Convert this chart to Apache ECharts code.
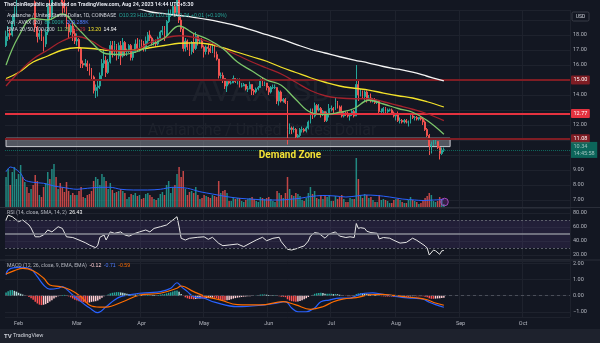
<!DOCTYPE html>
<html>
<head>
<meta charset="utf-8">
<script src="https://cdn.jsdelivr.net/npm/echarts@6/dist/echarts.min.js"></script>
<style>
  html, body { margin: 0; padding: 0; background: #131722; }
  #chart { width: 600px; height: 343px; }
</style>
</head>
<body>
<div id="chart"></div>
<script>
// AVAX/USD daily candles, 26 Jan 2023 - 24 Aug 2023 (COINBASE, 1D)
const opens = [
  17.3, 17.9, 18.1, 18.0, 18.9, 19.4,
  20.2, 20.9, 21.6, 21.3, 21.9, 21.2, 20.6, 21.2, 20.2, 18.5, 17.9, 18.1, 17.8, 17.4, 18.2, 19.9, 19.2, 20.9, 21.6, 21.0, 21.5, 20.6, 20.2, 19.8, 18.7, 18.2, 18.6, 18.1,
  17.6, 17.7, 17.1, 16.1, 16.0, 16.1, 15.9, 15.6, 15.2, 14.3, 14.5, 14.6, 15.3, 16.1, 16.3, 15.5, 16.2, 17.3, 16.7, 17.3, 16.6, 17.3, 16.6, 17.5, 16.9, 16.9, 17.3, 16.5, 16.9, 17.4, 17.1,
  17.5, 17.4, 17.1, 17.6, 18.0, 17.8, 17.5, 17.5, 17.4, 17.8, 18.2, 18.3, 18.0, 18.9, 19.3, 19.4, 19.9, 19.5, 20.5, 19.0, 18.4, 17.1, 17.6, 17.2, 16.9, 17.5, 17.1, 17.9, 17.6, 17.6,
  17.2, 16.9, 17.2, 17.1, 16.9, 17.3, 16.7, 16.4, 15.3, 15.3, 15.1, 14.6, 14.9, 14.8, 14.8, 15.1, 14.9, 15.0, 14.6, 14.6, 14.7, 14.4, 14.4, 14.7, 14.3, 14.2, 14.4, 14.5, 15.0, 14.7, 14.8,
  14.5, 14.2, 14.5, 14.5, 14.5, 13.6, 14.2, 13.6, 13.7, 13.5, 11.7, 11.8, 11.7, 11.7, 11.2, 11.3, 11.7, 11.7, 11.6, 11.8, 12.2, 12.9, 12.6, 13.3, 13.0, 13.1, 12.7, 12.9, 12.3, 12.7,
  13.1, 13.1, 13.0, 13.5, 13.2, 12.9, 12.6, 12.8, 12.7, 12.6, 12.7, 12.9, 12.6, 14.7, 14.0, 14.2, 13.9, 14.2, 13.7, 13.8, 13.6, 13.7, 13.5, 13.6, 12.9, 12.9, 13.1, 12.9, 13.0, 13.0, 12.8,
  12.6, 12.7, 12.3, 12.3, 12.2, 12.3, 12.2, 12.2, 12.6, 12.5, 12.5, 12.4, 12.5, 12.4, 12.2, 11.7, 11.3, 10.6, 10.7, 10.8, 10.9, 10.5, 10.1, 10.33
];
const closes = [
  17.9, 18.1, 18.0, 18.9, 19.4, 20.2,
  20.9, 21.6, 21.3, 21.9, 21.2, 20.6, 21.2, 20.2, 18.5, 17.9, 18.1, 17.8, 17.4, 18.2, 19.9, 19.2, 20.9, 21.6, 21.0, 21.5, 20.6, 20.2, 19.8, 18.7, 18.2, 18.6, 18.1, 17.6,
  17.7, 17.1, 16.1, 16.0, 16.1, 15.9, 15.6, 15.2, 14.3, 14.5, 14.6, 15.3, 16.1, 16.3, 15.5, 16.2, 17.3, 16.7, 17.3, 16.6, 17.3, 16.6, 17.5, 16.9, 16.9, 17.3, 16.5, 16.9, 17.4, 17.1, 17.5,
  17.4, 17.1, 17.6, 18.0, 17.8, 17.5, 17.5, 17.4, 17.8, 18.2, 18.3, 18.0, 18.9, 19.3, 19.4, 19.9, 19.5, 20.5, 19.0, 18.4, 17.1, 17.6, 17.2, 16.9, 17.5, 17.1, 17.9, 17.6, 17.6, 17.2,
  16.9, 17.2, 17.1, 16.9, 17.3, 16.7, 16.4, 15.3, 15.3, 15.1, 14.6, 14.9, 14.8, 14.8, 15.1, 14.9, 15.0, 14.6, 14.6, 14.7, 14.4, 14.4, 14.7, 14.3, 14.2, 14.4, 14.5, 15.0, 14.7, 14.8, 14.5,
  14.2, 14.5, 14.5, 14.5, 13.6, 14.2, 13.6, 13.7, 13.5, 11.7, 11.8, 11.7, 11.7, 11.2, 11.3, 11.7, 11.7, 11.6, 11.8, 12.2, 12.9, 12.6, 13.3, 13.0, 13.1, 12.7, 12.9, 12.3, 12.7, 13.1,
  13.1, 13.0, 13.5, 13.2, 12.9, 12.6, 12.8, 12.7, 12.6, 12.7, 12.9, 12.6, 14.7, 14.0, 14.2, 13.9, 14.2, 13.7, 13.8, 13.6, 13.7, 13.5, 13.6, 12.9, 12.9, 13.1, 12.9, 13.0, 13.0, 12.8, 12.6,
  12.7, 12.3, 12.3, 12.2, 12.3, 12.2, 12.2, 12.6, 12.5, 12.5, 12.4, 12.5, 12.4, 12.2, 11.7, 11.3, 10.6, 10.7, 10.8, 10.9, 10.5, 10.1, 10.33, 10.34
];
const highs = [
  18.3, 18.6, 18.4, 19.3, 19.9, 20.6,
  21.3, 22.4, 22.0, 22.5, 22.0, 21.4, 21.5, 21.3, 20.3, 18.6, 18.3, 18.4, 17.9, 18.4, 20.1, 20.8, 21.2, 22.0, 22.2, 21.8, 21.7, 20.7, 20.6, 19.9, 18.8, 18.7, 18.9, 18.4,
  18.1, 17.8, 17.2, 16.3, 16.4, 16.3, 16.1, 15.8, 15.3, 14.7, 15.0, 15.5, 16.4, 17.0, 16.6, 16.4, 17.6, 17.6, 17.6, 17.4, 17.5, 17.6, 17.8, 17.6, 17.1, 17.4, 17.4, 17.0, 17.7, 17.8, 17.7,
  17.7, 17.6, 17.9, 18.2, 18.3, 17.9, 17.7, 17.7, 17.9, 18.3, 18.6, 18.6, 19.0, 19.7, 19.7, 20.2, 20.0, 20.8, 20.6, 19.2, 18.5, 17.8, 17.7, 17.5, 17.6, 18.1, 18.2, 18.0, 17.8, 17.8,
  17.3, 17.3, 17.4, 17.3, 17.5, 17.4, 16.9, 16.4, 15.5, 15.5, 15.1, 15.0, 15.0, 15.0, 15.3, 15.1, 15.1, 15.1, 14.8, 14.8, 14.7, 14.6, 14.9, 14.7, 14.4, 14.5, 14.6, 15.1, 15.2, 14.9, 14.8,
  14.6, 14.6, 14.7, 14.7, 14.5, 14.3, 14.3, 13.8, 13.8, 13.6, 12.1, 11.9, 11.9, 11.8, 11.4, 11.8, 11.9, 11.8, 11.9, 12.3, 13.1, 13.1, 13.5, 13.4, 13.4, 13.2, 13.0, 12.9, 12.9, 13.4,
  13.3, 13.2, 13.8, 13.6, 13.3, 13.3, 12.9, 12.9, 12.9, 12.8, 13.0, 13.0, 16.0, 15.0, 14.4, 14.3, 14.3, 14.3, 14.0, 14.1, 13.8, 13.8, 13.7, 13.6, 13.1, 13.2, 13.2, 13.1, 13.1, 13.1, 12.9,
  12.8, 12.9, 12.5, 12.4, 12.4, 12.4, 12.3, 12.8, 12.8, 12.6, 12.6, 12.5, 12.6, 12.5, 12.3, 11.8, 11.4, 10.9, 11.0, 11.0, 10.9, 10.6, 10.5, 10.5
];
const lows = [
  17.2, 17.6, 17.7, 17.9, 18.6, 19.2,
  19.8, 20.8, 20.9, 21.1, 20.8, 20.2, 20.3, 19.8, 18.2, 17.5, 17.7, 17.6, 16.9, 17.2, 18.0, 19.0, 19.0, 20.7, 20.8, 20.5, 20.3, 19.4, 19.5, 18.4, 17.8, 18.0, 17.6, 17.4,
  17.3, 16.9, 15.8, 15.8, 15.9, 15.6, 15.3, 15.0, 14.1, 13.8, 13.9, 14.4, 15.0, 15.8, 15.2, 15.4, 16.1, 16.5, 16.6, 16.3, 16.4, 16.0, 16.5, 16.6, 16.6, 16.8, 16.3, 16.3, 16.8, 16.9, 16.9,
  17.2, 16.9, 16.9, 17.4, 17.6, 17.3, 17.3, 17.2, 17.3, 17.6, 18.0, 17.6, 17.9, 18.8, 19.2, 19.3, 19.2, 19.3, 18.8, 18.2, 16.9, 16.9, 17.0, 16.6, 16.7, 16.8, 17.0, 17.3, 17.4, 17.1,
  16.5, 16.7, 16.7, 16.8, 16.8, 16.5, 16.3, 15.1, 15.1, 14.8, 14.4, 14.2, 14.7, 14.7, 14.8, 14.8, 14.7, 14.5, 14.5, 14.6, 14.3, 14.2, 14.4, 14.0, 14.0, 14.1, 14.3, 14.5, 14.6, 14.6, 14.3,
  14.0, 14.1, 14.4, 14.4, 13.4, 13.3, 13.5, 13.5, 13.4, 10.7, 11.4, 11.4, 11.5, 11.0, 11.0, 11.2, 11.5, 11.5, 11.5, 11.7, 12.1, 12.4, 12.5, 12.8, 12.9, 12.5, 12.6, 12.2, 12.2, 12.5,
  12.9, 12.8, 13.0, 13.1, 12.7, 12.5, 12.5, 12.6, 12.5, 12.3, 12.6, 12.5, 12.6, 13.6, 13.9, 13.8, 13.6, 13.5, 13.6, 13.5, 13.5, 13.4, 13.4, 12.8, 12.8, 12.8, 12.8, 12.8, 12.9, 12.7, 12.5,
  12.3, 12.2, 12.1, 12.1, 12.1, 12.1, 11.9, 12.1, 12.4, 12.3, 12.3, 12.3, 12.3, 12.0, 11.6, 11.2, 10.0, 10.1, 10.6, 10.7, 10.4, 9.7, 10.0, 10.2
];
// daily volume, thousand AVAX
const volumes = [
  840, 1064, 616, 980, 1120, 784, 924, 1176, 840, 700,
  560, 392, 504, 616, 896, 728, 336, 280, 560, 672,
  980, 784, 1064, 1204, 840, 504, 672, 560, 420, 700, 448, 336,
  392, 336, 336, 448, 560, 280, 252, 336, 364, 448, 728, 840,
  784, 616, 924, 840, 728, 504, 672, 476, 392, 420, 448, 504,
  448, 392, 224, 280, 364, 336, 392, 308, 336, 224, 252, 364, 392, 336, 280,
  224, 196, 252, 364, 420, 336, 616, 728, 392, 560, 616, 924, 1120, 840, 1008,
  504, 336, 420, 448, 392, 560, 336, 224, 252, 336, 308, 280, 252, 336, 308, 280,
  728, 392, 448, 476, 392, 168, 168, 280, 224, 252, 252, 168, 140, 196, 224, 252, 280, 224, 168, 140, 280, 252, 224, 252,
  280, 224, 168, 140, 448, 392, 336, 252, 392, 840, 504, 336, 308, 392, 364, 308, 196, 168, 252, 392, 560, 364, 448, 252, 224, 336, 224, 336, 280, 336,
  168, 168, 308, 224, 280, 336, 224, 140, 140, 252, 224, 224, 1372, 784, 336, 252, 364, 336, 252, 280, 196, 140, 140, 336, 196, 224, 196, 168, 112, 112, 196,
  224, 224, 196, 140, 112, 112, 196, 280, 196, 168, 140, 84, 112, 196, 252, 308, 392, 336, 168, 140, 168, 280, 196, 84
];
// 20-day volume average, sampled
const volMA = [
  ['01-26', 988], ['01-28', 1120], ['01-30', 1084], ['02-02', 944], ['02-04', 756], ['02-08', 692],
  ['02-13', 664], ['02-18', 588], ['02-22', 552], ['03-01', 496], ['03-06', 524], ['03-12', 552],
  ['03-17', 552], ['03-22', 496], ['03-28', 476], ['04-04', 476], ['04-10', 496], ['04-16', 552],
  ['04-23', 524], ['04-29', 428], ['05-05', 364], ['05-12', 288], ['05-18', 244], ['05-25', 216],
  ['05-31', 196], ['06-06', 196], ['06-11', 216], ['06-16', 244], ['06-21', 294], ['06-27', 322],
  ['07-03', 308], ['07-08', 280], ['07-13', 308], ['07-17', 336], ['07-23', 322], ['07-29', 280],
  ['08-04', 224], ['08-10', 196], ['08-14', 182], ['08-19', 196], ['08-24', 209.288]
];

// moving averages, weekly samples
const emaWeeks = ['01-26','02-01','02-08','02-15','02-22','03-01','03-08','03-15','03-22','03-29','04-05',
  '04-12','04-19','04-26','05-03','05-10','05-17','05-24','05-31','06-07','06-14','06-21','06-28',
  '07-05','07-12','07-19','07-26','08-02','08-09','08-16','08-24'];
const ema20 = [16.0, 17.9, 19.1, 19.0, 19.4, 18.5, 17.5, 16.75, 16.7, 16.85, 17.3, 17.8, 18.6, 18.1, 17.7,
  17.1, 16.2, 15.6, 15.0, 14.65, 13.7, 12.85, 12.7, 12.85, 13.1, 13.65, 13.4, 13.1, 12.85, 12.3, 11.39];
const ema50 = [14.6, 15.5, 16.4, 17.0, 17.6, 17.9, 17.6, 17.05, 16.95, 17.0, 17.5, 17.8, 17.95, 17.85, 17.55,
  17.1, 16.65, 16.2, 15.8, 15.4, 14.85, 14.3, 13.95, 13.8, 13.75, 13.75, 13.55, 13.3, 13.05, 12.75, 12.29];
const ema100 = [15.1, 15.5, 16.2, 16.6, 17.0, 17.15, 17.1, 16.98, 16.95, 17.0, 17.15, 17.3, 17.45, 17.48, 17.4,
  17.15, 16.85, 16.55, 16.25, 15.85, 15.5, 15.15, 14.85, 14.6, 14.45, 14.33, 14.13, 13.95, 13.8, 13.55, 13.2];
const ema200 = [null, null, null, null, null, null, null, 20.4, 20.1, 19.82, 19.55, 19.42, 19.3, 19.18, 19.02,
  18.82, 18.6, 18.32, 18.02, 17.72, 17.38, 17.05, 16.8, 16.55, 16.33, 16.13, 15.9, 15.72, 15.52, 15.25, 14.94];

// horizontal levels and demand zone
const levels = [15.00, 12.77, 11.08];
const lastPrice = 10.34;
const demandZone = { from: '01-26', to: '08-27', top: 11.12, bottom: 10.56 };

// RSI (14), sampled
const rsi = [
  ['01-26', 70], ['01-27', 77], ['01-29', 74.7], ['02-01', 67.6], ['02-03', 70], ['02-06', 62.9], ['02-07', 58.6],
  ['02-09', 46], ['02-11', 46], ['02-13', 48.6], ['02-15', 55.7], ['02-17', 53], ['02-20', 60.4], ['02-22', 58],
  ['02-24', 46], ['02-27', 45], ['03-02', 41.4], ['03-05', 37.6], ['03-07', 34.3], ['03-10', 30.4], ['03-11', 34],
  ['03-12', 45.3], ['03-14', 48.6], ['03-15', 41.4], ['03-17', 53], ['03-19', 51], ['03-22', 53], ['03-24', 48.6],
  ['03-26', 47], ['03-29', 51], ['03-31', 53], ['04-03', 55.7], ['04-05', 53], ['04-07', 58], ['04-10', 60.4],
  ['04-13', 62.9], ['04-16', 70], ['04-18', 74.7], ['04-19', 60.4], ['04-20', 43.9], ['04-22', 41.4], ['04-24', 43.9],
  ['04-28', 45.3], ['05-01', 46], ['05-03', 42.4], ['05-05', 45.3], ['05-08', 36.7], ['05-10', 33.3], ['05-13', 34.3],
  ['05-17', 35.7], ['05-20', 31.9], ['05-23', 36.7], ['05-26', 41.4], ['05-29', 45.3], ['05-31', 40.4], ['06-03', 43.9],
  ['06-06', 45.3], ['06-07', 39], ['06-10', 28.1], ['06-12', 27.1], ['06-15', 29.6], ['06-16', 31], ['06-18', 33],
  ['06-20', 40], ['06-21', 47], ['06-23', 52], ['06-25', 51], ['06-28', 44], ['06-30', 50], ['07-03', 53],
  ['07-05', 47], ['07-08', 45], ['07-10', 46], ['07-12', 45], ['07-13', 65], ['07-14', 58], ['07-15', 59],
  ['07-17', 58], ['07-18', 54], ['07-20', 52], ['07-23', 51], ['07-24', 43], ['07-26', 45], ['07-29', 44],
  ['07-31', 41], ['08-03', 37], ['08-06', 38], ['08-09', 44], ['08-11', 41], ['08-13', 37], ['08-15', 33],
  ['08-16', 30], ['08-17', 20], ['08-19', 27], ['08-20', 26], ['08-22', 21], ['08-23', 26], ['08-24', 26.43]
];

// MACD (12, 26, 9)
const macdLine = [
  ['01-26', 1.28], ['01-27', 1.59], ['01-30', 1.73], ['02-03', 1.75], ['02-07', 1.63], ['02-10', 1.17],
  ['02-13', 0.66], ['02-16', 0.40], ['02-20', 0.46], ['02-22', 0.56], ['02-24', 0.40], ['02-27', 0.04],
  ['03-02', -0.27], ['03-05', -0.57], ['03-07', -0.75], ['03-11', -1.05], ['03-15', -0.68], ['03-19', -0.27],
  ['03-22', -0.06], ['03-26', 0.04], ['03-31', 0.15], ['04-05', 0.19], ['04-10', 0.25], ['04-15', 0.46],
  ['04-18', 0.80], ['04-20', 0.56], ['04-23', 0.25], ['04-26', -0.06], ['05-01', -0.16], ['05-06', -0.40],
  ['05-17', -0.68], ['05-30', -0.57], ['06-04', -0.47], ['06-09', -0.37], ['06-12', -0.76], ['06-15', -0.99],
  ['06-19', -0.99], ['06-23', -0.76], ['06-26', -0.37], ['06-30', -0.27], ['07-05', -0.15], ['07-10', -0.15],
  ['07-13', 0.0], ['07-17', 0.15], ['07-21', 0.18], ['07-25', 0.10], ['07-30', 0.0], ['08-04', -0.10],
  ['08-09', -0.15], ['08-14', -0.22], ['08-17', -0.40], ['08-20', -0.55], ['08-24', -0.71]
];
const signalLine = [
  ['01-26', 1.34], ['01-30', 1.55], ['02-03', 1.69], ['02-08', 1.54], ['02-13', 1.09], ['02-16', 0.66],
  ['02-21', 0.56], ['02-26', 0.35], ['03-03', -0.06], ['03-07', -0.57], ['03-12', -0.70], ['03-15', -0.70],
  ['03-23', -0.37], ['03-31', 0.04], ['04-10', 0.15], ['04-18', 0.46], ['04-20', 0.60], ['04-26', 0.25],
  ['05-02', -0.06], ['05-09', -0.27], ['05-17', -0.55], ['05-28', -0.57], ['06-08', -0.37], ['06-14', -0.57],
  ['06-21', -0.84], ['06-27', -0.68], ['07-02', -0.37], ['07-07', -0.20], ['07-13', -0.12], ['07-19', 0.05],
  ['07-25', 0.08], ['07-31', 0.02], ['08-06', -0.08], ['08-12', -0.15], ['08-16', -0.25], ['08-20', -0.45],
  ['08-24', -0.59]
];
const macdHist = [
  0.20, 0.28, 0.33, 0.35, 0.30, 0.25, 0.18, 0.12, 0.07, 0.03,
  -0.02, -0.08, -0.15, -0.25, -0.38, -0.48, -0.55, -0.58, -0.56, -0.52, -0.45,
  -0.36, -0.28, -0.18, -0.10, -0.04, 0.01, 0.04,
  0.05, 0.02, -0.04, -0.10, -0.18, -0.25,
  -0.30, -0.34, -0.38, -0.40, -0.42, -0.44, -0.42, -0.38, -0.36, -0.34, -0.30, -0.22,
  -0.12, -0.04, 0.02, 0.08, 0.14, 0.18, 0.20, 0.22, 0.22, 0.20,
  0.18, 0.15, 0.12, 0.10, 0.08, 0.08, 0.07, 0.06, 0.06, 0.05, 0.04, 0.05, 0.06, 0.06, 0.05,
  0.04, 0.04, 0.05, 0.07, 0.09, 0.10, 0.14, 0.18, 0.22, 0.26, 0.30, 0.32, 0.25,
  0.10, -0.02, -0.10, -0.16, -0.20, -0.20, -0.22, -0.20, -0.18, -0.17, -0.17, -0.17,
  -0.16, -0.15, -0.14, -0.12, -0.13, -0.15, -0.22, -0.26, -0.28, -0.30, -0.28, -0.26, -0.22, -0.18, -0.15,
  -0.12, -0.10, -0.08, -0.06, -0.05, -0.04, -0.03, -0.02, 0.0, 0.02, 0.04, 0.07, 0.08, 0.08, 0.06, 0.04, 0.04, 0.03, 0.03, -0.02,
  -0.03, -0.06, -0.07, -0.09, -0.22, -0.30, -0.34, -0.36, -0.38, -0.36,
  -0.32, -0.28, -0.22, -0.16, -0.08, 0.0, 0.05, 0.12, 0.15, 0.17, 0.18, 0.17, 0.12, 0.12, 0.12,
  0.12, 0.10, 0.11, 0.09, 0.06, 0.02, 0.0, -0.02, -0.03, -0.03, -0.02, -0.02,
  0.10, 0.14, 0.16, 0.15, 0.14, 0.12, 0.10, 0.08, 0.06, 0.04, 0.03, -0.02, -0.03, -0.04, -0.05, -0.05, -0.05, -0.05, -0.06,
  -0.06, -0.08, -0.08, -0.08, -0.07, -0.07, -0.07, -0.04, -0.03, -0.03, -0.03, -0.03, -0.03, -0.04, -0.07, -0.10,
  -0.16, -0.19, -0.19, -0.18, -0.17, -0.16, -0.14, -0.12
];

// ---- axis categories: one per calendar day, through late October ----
const monthNames = ['Jan','Feb','Mar','Apr','May','Jun','Jul','Aug','Sep','Oct','Nov','Dec'];
const dates = [];
const startMs = Date.UTC(2023, 0, 26);
for (let i = 0; i < 271; i++) dates.push(new Date(startMs + i * 864e5).toISOString().slice(0, 10));
const d = md => '2023-' + md;
const isMonthStart = (idx, val) => val.slice(8) === '01';

const FONT = 'Roboto, "Noto Sans", sans-serif';
const TXT = '#b2b5be';
const GRIDC = '#1e222d';
const UP = '#26a69a', DOWN = '#ef5350';

const n = closes.length;
const candleData = closes.map((c, i) => [opens[i], c, lows[i], highs[i]]);
const volData = volumes.map((v, i) => ({
  value: v,
  itemStyle: { color: closes[i] >= opens[i] ? 'rgba(38,166,154,0.8)' : 'rgba(239,83,80,0.8)' }
}));
const histData = macdHist.map((v, i) => {
  const p = i > 0 ? macdHist[i - 1] : 0;
  let c;
  if (v >= 0) c = v >= p ? '#26a69a' : '#b2dfdb';
  else c = v <= p ? '#ff5252' : '#ffcdd2';
  return { value: v, itemStyle: { color: c } };
});
const pairs = arr => arr.map(([md, v]) => [d(md), v]);
const weekly = vals => emaWeeks.map((md, i) => [d(md), vals[i]]);

const priceFmt = v => {
  const r = Math.round(v * 1000) / 1000;
  if (!Number.isInteger(r)) return '';
  if ([19, 15, 13, 11, 10].includes(r)) return '';
  return r.toFixed(2);
};
const intFmt = v => {
  const r = Math.round(v * 1000) / 1000;
  if (!Number.isInteger(r)) return '';
  return (r < 0 ? '\u2212' + Math.abs(r).toFixed(2) : r.toFixed(2));
};

const xAxisBase = (gi, showLabel) => ({
  type: 'category', gridIndex: gi, data: dates, boundaryGap: true,
  axisLine: { show: false }, axisTick: { show: false, interval: isMonthStart },
  splitLine: { show: gi !== 1, interval: isMonthStart, lineStyle: { color: GRIDC, width: 1 } },
  axisLabel: showLabel ? {
    show: true, interval: isMonthStart, color: TXT, fontSize: 5.5, fontFamily: FONT, margin: 4,
    formatter: v => monthNames[+v.slice(5, 7) - 1]
  } : { show: false }
});
const yAxisBase = (gi, min, max, split, fmt) => ({
  type: 'value', gridIndex: gi, position: 'right', min, max, splitNumber: split, scale: true,
  axisLine: { show: false }, axisTick: { show: false },
  splitLine: { show: true, lineStyle: { color: GRIDC, width: 1 } },
  axisLabel: { show: true, color: TXT, fontSize: 5.5, fontFamily: FONT, margin: 3, formatter: fmt,
    showMinLabel: false, showMaxLabel: false }
});

const last = n - 1;
const chg = closes[last] - closes[last - 1];
const pct = chg / closes[last - 1] * 100;
const ohlcText = `O${opens[last].toFixed(2)} H${highs[last].toFixed(2)} L${lows[last].toFixed(2)} C${closes[last].toFixed(2)} +${chg.toFixed(2)} (+${pct.toFixed(2)}%)`;
const lastOf = arr => arr[arr.length - 1];
const lastPair = arr => arr[arr.length - 1][1];

const levelLabel = (bg) => ({
  show: true, position: 'end', distance: 1, formatter: p => p.value.toFixed(2),
  color: '#ffffff', fontSize: 5.5, fontFamily: FONT, backgroundColor: bg, padding: [1.5, 2.5], borderRadius: 1
});

const chart = echarts.init(document.getElementById('chart'), null, { renderer: 'canvas' });
chart.setOption({
  backgroundColor: '#131722',
  animation: false,
  grid: [
    { left: 5, right: 30, top: 10, height: 197 },
    { left: 5, right: 30, top: 155, height: 52 },
    { left: 5, right: 30, top: 208, height: 51 },
    { left: 5, right: 30, top: 261, height: 56 }
  ],
  xAxis: [xAxisBase(0, false), xAxisBase(1, false), xAxisBase(2, false), xAxisBase(3, true)],
  yAxis: [
    yAxisBase(0, 6.5333, 19.6667, 13, priceFmt),
    { type: 'value', gridIndex: 1, min: 0, max: 1456, show: false, splitLine: { show: false } },
    yAxisBase(2, 14.2857, 87.1429, 4, intFmt),
    yAxisBase(3, -1.3148, 2.142, 3, intFmt)
  ],
  series: [
    {
      name: 'levels', type: 'line', xAxisIndex: 0, yAxisIndex: 0, data: [], z: 2,
      markLine: {
        silent: true, symbol: 'none', animation: false,
        data: [
          { yAxis: levels[0], lineStyle: { color: '#7f1d24', width: 2, type: 'solid' }, label: levelLabel('#7f1d24') },
          { yAxis: levels[1], lineStyle: { color: '#e5323f', width: 2, type: 'solid' }, label: levelLabel('#e5323f') },
          { yAxis: levels[2], lineStyle: { color: '#7f1d24', width: 2, type: 'solid' }, label: levelLabel('#7f1d24') },
          { yAxis: lastPrice, lineStyle: { color: '#089981', width: 1, type: 'dotted', opacity: 0.6 },
            label: { show: true, position: 'end', distance: 1, formatter: p => p.value.toFixed(2) + '\n14:45:58',
              color: '#ffffff', fontSize: 5.5, lineHeight: 6.5, fontFamily: FONT, backgroundColor: '#089981', padding: [1.5, 2.5] } }
        ]
      }
    },
    {
      name: 'Volume', type: 'bar', xAxisIndex: 1, yAxisIndex: 1, data: volData, barWidth: '72%', z: 2
    },
    {
      name: 'Vol MA', type: 'line', xAxisIndex: 1, yAxisIndex: 1, data: pairs(volMA), smooth: 0.3,
      showSymbol: false, lineStyle: { color: '#2962ff', width: 1 }, z: 3
    },
    {
      name: 'AVAXUSD', type: 'candlestick', xAxisIndex: 0, yAxisIndex: 0, data: candleData, barWidth: '65%', clip: true, z: 4,
      itemStyle: { color: UP, color0: DOWN, borderColor: UP, borderColor0: DOWN, borderWidth: 1 }
    },
    { name: 'EMA200', type: 'line', xAxisIndex: 0, yAxisIndex: 0, data: weekly(ema200), smooth: 0.4, showSymbol: false, clip: true,
      lineStyle: { color: '#f5f5f5', width: 1.3 }, z: 5 },
    { name: 'EMA100', type: 'line', xAxisIndex: 0, yAxisIndex: 0, data: weekly(ema100), smooth: 0.4, showSymbol: false, clip: true,
      lineStyle: { color: '#f4e32a', width: 1.3 }, z: 5 },
    { name: 'EMA50', type: 'line', xAxisIndex: 0, yAxisIndex: 0, data: weekly(ema50), smooth: 0.4, showSymbol: false, clip: true,
      lineStyle: { color: '#a3222c', width: 1.3 }, z: 5 },
    { name: 'EMA20', type: 'line', xAxisIndex: 0, yAxisIndex: 0, data: weekly(ema20), smooth: 0.4, showSymbol: false, clip: true,
      lineStyle: { color: '#7cc66a', width: 1.3 }, z: 5 },
    {
      name: 'zone', type: 'line', xAxisIndex: 0, yAxisIndex: 0, data: [], z: 6,
      markArea: {
        silent: true,
        itemStyle: { color: 'rgba(190,192,200,0.38)', borderColor: '#c9cad0', borderWidth: 1 },
        data: [[{ xAxis: d(demandZone.from), yAxis: demandZone.top }, { xAxis: d(demandZone.to), yAxis: demandZone.bottom }]]
      }
    },
    {
      name: 'RSI', type: 'line', xAxisIndex: 2, yAxisIndex: 2, data: pairs(rsi), showSymbol: false,
      lineStyle: { color: '#e6e6e6', width: 1 }, z: 4,
      markArea: { silent: true, itemStyle: { color: 'rgba(126,87,194,0.14)' }, data: [[{ yAxis: 70 }, { yAxis: 30 }]] },
      markLine: {
        silent: true, symbol: 'none', label: { show: false },
        data: [
          { yAxis: 70, lineStyle: { color: '#5d606b', type: [2, 2], width: 1 } },
          { yAxis: 50, lineStyle: { color: '#8a8d96', type: 'solid', width: 1.5 } },
          { yAxis: 30, lineStyle: { color: '#5d606b', type: [2, 2], width: 1 } }
        ]
      }
    },
    {
      name: 'Histogram', type: 'bar', xAxisIndex: 3, yAxisIndex: 3, data: histData, barWidth: '70%', z: 2,
      markLine: {
        silent: true, symbol: 'none', label: { show: false },
        data: [{ yAxis: 0, lineStyle: { color: '#4a4e59', type: [3, 3], width: 1 } }]
      }
    },
    { name: 'MACD', type: 'line', xAxisIndex: 3, yAxisIndex: 3, data: pairs(macdLine), smooth: 0.4, showSymbol: false,
      lineStyle: { color: '#2962ff', width: 1.2 }, z: 3 },
    { name: 'Signal', type: 'line', xAxisIndex: 3, yAxisIndex: 3, data: pairs(signalLine), smooth: 0.4, showSymbol: false,
      lineStyle: { color: '#ff6d00', width: 1.2 }, z: 3 }
  ],
  graphic: [
    // watermark
    { type: 'text', z: -5, silent: true, x: 262, y: 93,
      style: { text: 'AVAXUSD', fill: 'rgba(255,255,255,0.045)', font: `32px ${FONT}`, align: 'center', verticalAlign: 'middle' } },
    { type: 'text', z: -5, silent: true, x: 262, y: 131,
      style: { text: 'Avalanche / United States Dollar', fill: 'rgba(255,255,255,0.045)', font: `16px ${FONT}`, align: 'center', verticalAlign: 'middle' } },
    // pane separators and bottom strip
    { type: 'rect', z: 50, silent: true, shape: { x: 0, y: 207, width: 600, height: 1 }, style: { fill: '#2a2e39' } },
    { type: 'rect', z: 50, silent: true, shape: { x: 0, y: 259.5, width: 600, height: 1 }, style: { fill: '#2a2e39' } },
    { type: 'rect', z: 50, silent: true, shape: { x: 0, y: 329, width: 600, height: 14 }, style: { fill: '#1e222d' } },
    { type: 'text', z: 51, silent: true, x: 4, y: 336,
      style: { text: '{l|TV} TradingView', verticalAlign: 'middle', fill: '#d1d4dc', font: `5.5px ${FONT}`,
        rich: { l: { fontWeight: 'bold', fontSize: 6, fill: '#d1d4dc' } } } },
    // header
    { type: 'text', z: 60, silent: true, x: 4, y: 5,
      style: { text: 'TheCoinRepublic published on TradingView.com, Aug 24, 2023 14:44 UTC+5:30', fill: '#e0e3eb',
        font: `bold 5.3px ${FONT}`, verticalAlign: 'middle' } },
    { type: 'text', z: 60, silent: true, x: 7, y: 16,
      style: { text: `Avalanche / United States Dollar, 1D, COINBASE  {g|${ohlcText}}`, fill: '#d1d4dc',
        font: `5.2px ${FONT}`, verticalAlign: 'middle', rich: { g: { fill: UP, fontSize: 5.2 } } } },
    { type: 'text', z: 60, silent: true, x: 7, y: 23,
      style: { text: `Vol \u00b7 AVAX (20)  {r|${lastOf(volumes).toFixed(3)}K}  {b|${lastPair(volMA).toFixed(3)}K}`, fill: '#d1d4dc',
        font: `5.2px ${FONT}`, verticalAlign: 'middle',
        rich: { r: { fill: UP, fontSize: 5.2 }, b: { fill: '#4f7cff', fontSize: 5.2 } } } },
    { type: 'text', z: 60, silent: true, x: 7, y: 30,
      style: { text: `EMA 20/50/100/200  {g|${lastOf(ema20).toFixed(2)}}  {r|${lastOf(ema50).toFixed(2)}}  {y|${lastOf(ema100).toFixed(2)}}  {w|${lastOf(ema200).toFixed(2)}}`,
        fill: '#d1d4dc', font: `5.2px ${FONT}`, verticalAlign: 'middle',
        rich: { g: { fill: '#7cc66a', fontSize: 5.2 }, r: { fill: '#c0303b', fontSize: 5.2 }, y: { fill: '#f4e32a', fontSize: 5.2 }, w: { fill: '#ffffff', fontSize: 5.2 } } } },
    { type: 'text', z: 60, silent: true, x: 7, y: 212.5,
      style: { text: `RSI (14, close, SMA, 14, 2)  {w|${lastPair(rsi).toFixed(2)}}`, fill: '#b2b5be',
        font: `5.2px ${FONT}`, verticalAlign: 'middle', rich: { w: { fill: '#ffffff', fontSize: 5.2 } } } },
    { type: 'text', z: 60, silent: true, x: 7, y: 265.5,
      style: { text: `MACD (12, 26, close, 9, EMA, EMA)  {h|${lastOf(macdHist).toFixed(2)}}  {b|${lastPair(macdLine).toFixed(2)}}  {o|${lastPair(signalLine).toFixed(2)}}`,
        fill: '#b2b5be', font: `5.2px ${FONT}`, verticalAlign: 'middle',
        rich: { h: { fill: '#ffcdd2', fontSize: 5.2 }, b: { fill: '#4f7cff', fontSize: 5.2 }, o: { fill: '#ff6d00', fontSize: 5.2 } } } },
    // annotation
    { type: 'text', z: 60, silent: true, x: 290, y: 155,
      style: { text: 'Demand Zone', fill: '#f2e336', font: `bold 10px ${FONT}`, align: 'center', verticalAlign: 'middle' } },
    // currency box
    { type: 'rect', z: 60, silent: true, shape: { x: 572, y: 12, width: 17, height: 9, r: 1.5 },
      style: { fill: '#131722', stroke: '#434651', lineWidth: 0.8 } },
    { type: 'text', z: 61, silent: true, x: 580.5, y: 16.5,
      style: { text: 'USD', fill: '#d1d4dc', font: `5px ${FONT}`, align: 'center', verticalAlign: 'middle' } },
    // events marker on volume pane
    { type: 'circle', z: 60, silent: true, shape: { cx: 444.5, cy: 202, r: 3.8 },
      style: { fill: 'rgba(156,39,176,0.25)', stroke: '#b04fc7', lineWidth: 0.9 } }
  ]
});
</script>
</body>
</html>
